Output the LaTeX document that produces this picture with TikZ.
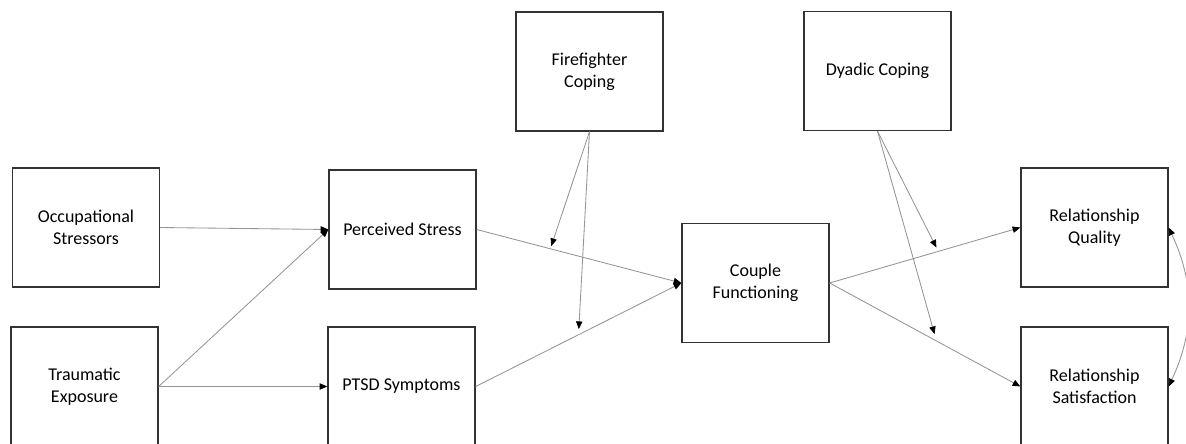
\documentclass[tikz,border=0pt]{standalone}
\usepackage{fontspec}
\setmainfont{Carlito}
\usetikzlibrary{arrows.meta,calc}

\begin{document}
\begin{tikzpicture}[x=0.025cm,y=-0.025cm,
  >={Triangle[length=5.5pt,width=4.5pt,color=black]},
  box/.style={draw=black!80,line width=0.9pt,minimum width=3.675cm,minimum height=2.975cm,
    align=center,inner sep=2pt,font=\fontsize{12.8}{15.6}\selectfont},
  link/.style={->,draw=black!42,line width=0.6pt}]
  \useasboundingbox (0,0) rectangle (1186,443);
  \clip (0,0) rectangle (1186,443);

  % Boxes
  \node[box] (occ) at (86,227.5) {Occupational\\Stressors};
  \node[box] (trauma) at (84.5,386.5) {Traumatic\\Exposure};
  \node[box] (stress) at (402.5,229.5) {Perceived Stress};
  \node[box] (ptsd) at (401.5,386.5) {PTSD Symptoms};
  \node[box] (ffcope) at (589.5,71.5) {Firefighter\\Coping};
  \node[box] (couple) at (755.5,283) {Couple\\Functioning};
  \node[box] (dycope) at (877.5,71) {Dyadic Coping};
  \node[box] (quality) at (1094.5,227.5) {Relationship\\Quality};
  \node[box] (satisf) at (1094.5,386.5) {Relationship\\Satisfaction};

  % Paths
  \draw[link] (occ.east) -- (stress.west);
  \draw[link] (trauma.east) -- (stress.west);
  \draw[link] (trauma.east) -- (ptsd.west);
  \draw[link] (stress.east) -- (couple.west);
  \draw[link] (ptsd.east) -- (couple.west);
  \draw[link] (couple.east) -- (quality.west);
  \draw[link] (couple.east) -- (satisf.west);

  % Moderators
  \draw[link,shorten >=2pt] (ffcope.south) -- ($(stress.east)!0.36!(couple.west)$);
  \draw[link,shorten >=4pt] (ffcope.south) -- ($(ptsd.east)!0.5!(couple.west)$);
  \draw[link,shorten >=3pt] (dycope.south) -- ($(couple.east)!0.57!(quality.west)$);
  \draw[link,shorten >=5pt] (dycope.south) -- ($(couple.east)!0.56!(satisf.west)$);

  % Correlation
  \draw[link,<->] (quality.east) to[bend left=25] (satisf.east);
\end{tikzpicture}
\end{document}
